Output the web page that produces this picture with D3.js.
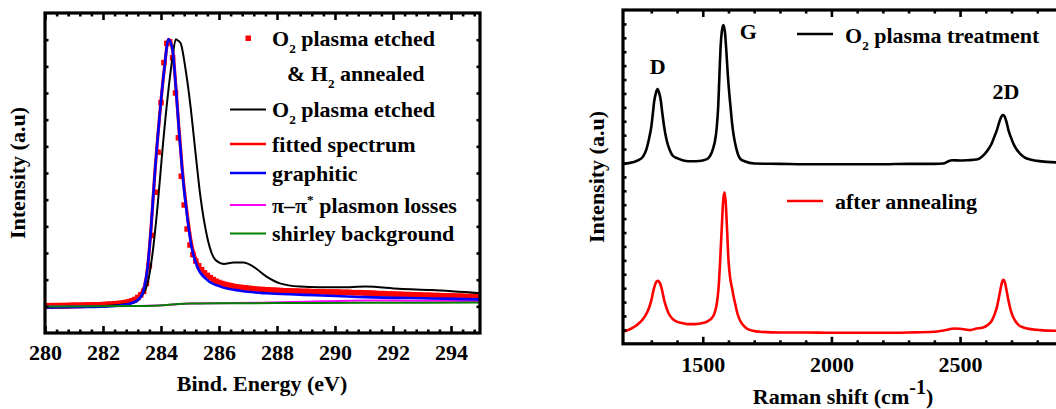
<!DOCTYPE html>
<html><head><meta charset="utf-8">
<script src="https://cdn.jsdelivr.net/npm/d3@7"></script>
<style>
body{margin:0;background:#fff}
svg{display:block}
text{font-family:"Liberation Serif","Times New Roman",serif;font-weight:bold;fill:#000}
</style>
</head><body>
<svg id="chart" width="1056" height="409"></svg>
<script>
// ---------------- DATA ----------------
// Left panel: C1s XPS, binding energy (eV) vs intensity (a.u., 0-100 of frame)
const xpsTickLabels = [280, 282, 284, 286, 288, 290, 292, 294];
const annealedE = [280.0,280.1,280.2,280.3,280.4,280.5,280.6,280.7,280.8,280.9,281.0,281.1,281.2,281.3,281.4,281.5,281.6,281.7,281.8,281.9,282.0,282.1,282.2,282.3,282.4,282.5,282.6,282.7,282.8,282.9,283.0,283.1,283.2,283.3,283.4,283.5,283.6,283.7,283.8,283.9,284.0,284.1,284.2,284.3,284.4,284.5,284.6,284.7,284.8,284.9,285.0,285.1,285.2,285.3,285.4,285.5,285.6,285.7,285.8,285.9,286.0,286.1,286.2,286.3,286.4,286.5,286.6,286.7,286.8,286.9,287.0,287.1,287.2,287.3,287.4,287.5,287.6,287.7,287.8,287.9,288.0,288.1,288.2,288.3,288.4,288.5,288.6,288.7,288.8,288.9,289.0,289.1,289.2,289.3,289.4,289.5,289.6,289.7,289.8,289.9,290.0,290.1,290.2,290.3,290.4,290.5,290.6,290.7,290.8,290.9,291.0,291.1,291.2,291.3,291.4,291.5,291.6,291.7,291.8,291.9,292.0,292.1,292.2,292.3,292.4,292.5,292.6,292.7,292.8,292.9,293.0,293.1,293.2,293.3,293.4,293.5,293.6,293.7,293.8,293.9,294.0,294.1,294.2,294.3,294.4,294.5,294.6,294.7,294.8,294.9,295.0];
const annealedI = [8.4,8.4,8.4,8.4,8.5,8.5,8.5,8.5,8.5,8.6,8.6,8.6,8.6,8.6,8.7,8.7,8.7,8.8,8.8,8.8,8.9,8.9,9.0,9.0,9.1,9.2,9.3,9.4,9.6,9.8,10.1,10.5,11.1,11.9,13.0,15.5,21.0,30.5,44.0,56.5,72.0,84.5,90.5,91.0,86.0,75.0,61.0,49.0,40.0,32.5,27.5,24.5,22.5,21.0,19.8,18.8,18.0,17.3,16.7,16.2,15.8,15.5,15.2,15.0,14.8,14.6,14.4,14.3,14.2,14.1,14.0,13.9,13.8,13.7,13.6,13.6,13.5,13.5,13.4,13.4,13.3,13.3,13.2,13.2,13.2,13.1,13.1,13.1,13.0,13.0,13.0,13.0,12.9,12.9,12.9,12.9,12.9,12.8,12.8,12.8,12.8,12.8,12.7,12.7,12.7,12.7,12.6,12.6,12.6,12.6,12.5,12.5,12.5,12.4,12.4,12.3,12.3,12.3,12.2,12.2,12.2,12.1,12.1,12.1,12.0,12.0,12.0,11.9,11.9,11.9,11.8,11.8,11.8,11.8,11.7,11.7,11.7,11.6,11.6,11.6,11.6,11.5,11.5,11.5,11.5,11.4,11.4,11.4,11.4,11.3,11.3];
const etched = [[280,8.0],[281,8.1],[281.95,8.4],[282.52,8.75],[283.08,9.5],[283.31,11.3],[283.54,15.6],[283.71,25.0],[283.88,39.5],[284.06,58.2],[284.23,73.8],[284.40,86.3],[284.51,91.8],[284.6,91.3],[284.68,90.5],[284.85,82.2],[285.02,70.7],[285.19,56.3],[285.36,42.6],[285.59,30.1],[285.88,22.8],[286.16,21.6],[286.50,22.0],[286.84,22.0],[287.19,20.7],[287.64,17.6],[288.10,15.5],[288.78,14.5],[289.46,14.3],[290.2,14.3],[291.06,14.5],[292.20,13.8],[293.33,13.4],[295.0,12.4]];
const fitted = [[280,8.9],[281,9.0],[282,9.2],[282.6,9.5],[283.0,10.2],[283.2,11.2],[283.43,14.5],[283.54,20.7],[283.66,33.2],[283.77,47.8],[283.94,66.6],[284.11,82.2],[284.26,91.8],[284.40,88.4],[284.51,77.2],[284.62,63.8],[284.74,50.5],[284.89,38.2],[285.05,28.0],[285.25,22.0],[285.59,18.0],[286.05,15.8],[286.73,14.5],[287.64,13.6],[288.78,13.1],[290.0,12.8],[291.06,12.5],[292.2,12.2],[293.34,11.9],[295,11.6]];
const graphitic = [[280,8.0],[281,8.1],[281.95,8.2],[282.52,8.5],[282.97,9.3],[283.26,10.8],[283.43,14.5],[283.54,20.7],[283.66,33.2],[283.77,47.8],[283.94,66.6],[284.11,82.2],[284.26,91.8],[284.40,88.4],[284.51,77.0],[284.62,63.4],[284.74,49.9],[284.89,37.4],[285.05,27.0],[285.25,20.7],[285.59,16.6],[286.05,14.5],[286.73,13.2],[287.64,12.4],[288.78,12.0],[291.06,11.2],[293.34,10.8],[295,10.5]];
const plasmon = [[280,8.3],[283,8.4],[284.2,8.75],[285,9.2],[286,9.3],[287.5,9.45],[288.5,9.65],[289.5,9.9],[290.5,10.1],[291.5,10.15],[292.5,10.1],[293.5,10.05],[295,10.0]];
const shirley = [[280,8.3],[283,8.4],[283.8,8.5],[284.2,8.75],[284.6,9.05],[285,9.2],[286,9.3],[288,9.35],[291,9.45],[295,9.5]];
const xpsLegendLabels = ["O_2 plasma etched", "& H_2 annealed", "O_2 plasma etched", "fitted spectrum", "graphitic", "π–π^* plasmon losses", "shirley background"];

// Right panel: Raman spectra, Raman shift (cm-1) vs intensity (a.u., 0-100 of frame)
const ramanTickLabels = [1500, 2000, 2500];
const ramanO2 = [[1190,53.9],[1228,54.4],[1250,55.0],[1267,56.0],[1280,58.0],[1287,60.0],[1294,62.5],[1300,65.0],[1306,69.0],[1311,72.5],[1318,75.2],[1324,76.3],[1330,75.3],[1337,72.8],[1343,69.0],[1350,65.0],[1356,62.3],[1363,60.0],[1372,58.0],[1382,56.5],[1400,55.6],[1421,55.0],[1445,54.7],[1473,54.7],[1500,54.9],[1520,55.5],[1530,56.5],[1540,58.5],[1548,61.0],[1554,64.5],[1560,71.0],[1565,81.0],[1569,88.5],[1574,93.5],[1580,95.5],[1586,93.5],[1591,88.5],[1597,81.0],[1603,75.0],[1608,71.0],[1614,66.0],[1620,62.5],[1626,60.0],[1632,58.0],[1645,55.5],[1665,54.6],[1700,54.0],[1800,53.9],[1900,53.8],[2000,53.8],[2100,53.8],[2200,53.8],[2300,53.9],[2400,53.9],[2435,54.0],[2450,54.5],[2469,55.0],[2500,54.9],[2530,55.0],[2564,55.2],[2597,57.0],[2612,58.5],[2623,60.0],[2633,62.0],[2643,64.0],[2652,66.3],[2660,68.0],[2667,68.5],[2674,68.0],[2681,66.3],[2688,64.0],[2697,62.0],[2707,60.0],[2720,58.2],[2733,57.0],[2752,55.8],[2772,55.2],[2800,54.8],[2837,54.5],[2900,54.3],[3000,54.2]];
const ramanAnnealed = [[1190,3.6],[1215,4.3],[1240,5.4],[1260,6.7],[1275,8.2],[1290,10.5],[1300,13.0],[1308,15.8],[1315,17.8],[1321,18.7],[1326,18.9],[1331,18.5],[1337,17.5],[1344,15.3],[1351,12.8],[1359,10.8],[1368,9.0],[1380,7.7],[1395,6.8],[1415,6.3],[1440,5.9],[1470,5.9],[1500,6.2],[1520,6.8],[1535,7.7],[1545,9.0],[1552,11.0],[1558,14.0],[1563,18.5],[1568,25.5],[1574,35.0],[1579,42.5],[1584,45.4],[1589,42.5],[1594,35.0],[1600,25.0],[1606,20.0],[1613,17.0],[1619,14.5],[1626,12.0],[1635,9.0],[1645,7.0],[1658,5.5],[1671,4.6],[1695,3.9],[1722,3.6],[1800,3.4],[1900,3.4],[2000,3.3],[2100,3.3],[2200,3.3],[2300,3.4],[2400,3.6],[2435,4.0],[2455,4.3],[2475,4.6],[2500,4.5],[2520,4.3],[2539,4.1],[2560,4.5],[2590,4.9],[2610,5.8],[2623,6.9],[2633,8.6],[2643,10.9],[2650,13.5],[2656,15.9],[2662,18.2],[2668,19.2],[2674,18.5],[2681,15.9],[2687,13.4],[2694,10.9],[2703,8.6],[2714,6.9],[2728,5.6],[2746,4.9],[2775,4.4],[2811,4.1],[2873,3.9],[3000,3.8]];
const ramanLegendLabels = ["O_2 plasma treatment", "after annealing"];
const ramanPeakLabels = [["D", 1325, 76.3], ["G", 1580, 95.5], ["2D", 2667, 68.5]];

// ---------------- DRAWING ----------------
const svg = d3.select("#chart");
const FONT = '"Liberation Serif","Times New Roman",serif';

function rich(sel, str, size) {
  const parts = str.split(/([_^]\S)/).filter(s => s.length);
  let shift = 0;
  parts.forEach(p => {
    let dy = 0, fs = size, txt = p;
    if (p[0] === "_") { txt = p.slice(1); fs = size * 0.6; dy = 7 - shift; shift = 7; }
    else if (p[0] === "^") { txt = p.slice(1); fs = size * 0.6; dy = -9 - shift; shift = -9; }
    else { dy = -shift; shift = 0; }
    sel.append("tspan").attr("dy", dy).attr("font-size", fs).text(txt);
  });
  return sel;
}

function styleAxis(g) {
  g.select(".domain").remove();
  g.attr("font-family", FONT).attr("font-size", 22).attr("font-weight", "bold");
  g.selectAll(".tick line").attr("stroke", "#000").attr("stroke-width", 2.6);
  g.selectAll(".tick text").attr("fill", "#000");
}

function panel(cfg) {
  const { x, y, x0, x1, y0, y1, major, minor, yTickCount, padding, id } = cfg;
  const g = svg.append("g");
  const bMaj = g.append("g").attr("transform", `translate(0,${y0})`)
    .call(d3.axisBottom(x).tickValues(major).tickSizeInner(-7).tickSizeOuter(0).tickPadding(padding).tickFormat(d3.format("d")));
  styleAxis(bMaj);
  const bMin = g.append("g").attr("transform", `translate(0,${y0})`)
    .call(d3.axisBottom(x).tickValues(minor).tickSizeInner(-3.5).tickSizeOuter(0).tickFormat(""));
  styleAxis(bMin);
  const tMaj = g.append("g").attr("transform", `translate(0,${y1})`)
    .call(d3.axisTop(x).tickValues(major).tickSizeInner(-7).tickSizeOuter(0).tickFormat(""));
  styleAxis(tMaj);
  const tMin = g.append("g").attr("transform", `translate(0,${y1})`)
    .call(d3.axisTop(x).tickValues(minor).tickSizeInner(-3.5).tickSizeOuter(0).tickFormat(""));
  styleAxis(tMin);
  const yt = d3.range(1, yTickCount).map(k => 100 * k / yTickCount);
  const lAx = g.append("g").attr("transform", `translate(${x0},0)`)
    .call(d3.axisLeft(y).tickValues(yt).tickSizeInner(-3.5).tickSizeOuter(0).tickFormat(""));
  styleAxis(lAx);
  const rAx = g.append("g").attr("transform", `translate(${x1},0)`)
    .call(d3.axisRight(y).tickValues(yt).tickSizeInner(-3.5).tickSizeOuter(0).tickFormat(""));
  styleAxis(rAx);
  g.append("rect").attr("x", x0).attr("y", y1).attr("width", x1 - x0).attr("height", y0 - y1)
    .attr("fill", "none").attr("stroke", "#000").attr("stroke-width", 3.2);
  svg.append("clipPath").attr("id", id).append("rect")
    .attr("x", x0).attr("y", y1).attr("width", x1 - x0).attr("height", y0 - y1);
  return g;
}

// ----- Left panel -----
const xL = d3.scaleLinear().domain([280, 295]).range([45, 480]);
const yL = d3.scaleLinear().domain([0, 100]).range([333, 13]);
const minorL = d3.range(280, 295.001, 0.4).filter(v => Math.abs((v - 280) % 2) > 0.05 && Math.abs((v - 280) % 2 - 2) > 0.05);
const curvesL = svg.append("g").attr("clip-path", "url(#clipL)");
const lineL = d3.line().x(d => xL(d[0])).y(d => yL(d[1])).curve(d3.curveMonotoneX);

curvesL.append("g").selectAll("rect").data(annealedE.map((e, i) => [e, annealedI[i]])).join("rect")
  .attr("x", d => xL(d[0]) - 2.75).attr("y", d => yL(d[1]) - 2.75)
  .attr("width", 5.5).attr("height", 5.5).attr("fill", "#ff0000");
curvesL.append("path").datum(fitted).attr("d", lineL).attr("fill", "none").attr("stroke", "#ff0000").attr("stroke-width", 3.2);
curvesL.append("path").datum(etched).attr("d", lineL).attr("fill", "none").attr("stroke", "#000").attr("stroke-width", 2);
curvesL.append("path").datum(plasmon).attr("d", lineL).attr("fill", "none").attr("stroke", "#ff00ff").attr("stroke-width", 2);
curvesL.append("path").datum(graphitic).attr("d", lineL).attr("fill", "none").attr("stroke", "#0000ff").attr("stroke-width", 2.6);
curvesL.append("path").datum(shirley).attr("d", lineL).attr("fill", "none").attr("stroke", "#008000").attr("stroke-width", 2);

panel({ x: xL, y: yL, x0: 45, x1: 480, y0: 333, y1: 13, major: xpsTickLabels, minor: minorL, yTickCount: 12, padding: 11, id: "clipL" });

const legL = svg.append("g");
legL.append("rect").attr("x", 245.5).attr("y", 35.5).attr("width", 5.5).attr("height", 5.5).attr("fill", "#ff0000");
rich(legL.append("text").attr("x", 272).attr("y", 46).attr("font-size", 22), xpsLegendLabels[0], 22);
rich(legL.append("text").attr("x", 287).attr("y", 81).attr("font-size", 22), xpsLegendLabels[1], 22);
const legLines = [
  { c: "#000", y: 109.5, ty: 117, w: 2 },
  { c: "#ff0000", y: 144, ty: 152, w: 2.6 },
  { c: "#0000ff", y: 173, ty: 180.5, w: 2.6 },
  { c: "#ff00ff", y: 205, ty: 213, w: 2.2 },
  { c: "#008000", y: 233.5, ty: 241, w: 2.2 }
];
legLines.forEach((L, i) => {
  legL.append("line").attr("x1", 230).attr("x2", 266).attr("y1", L.y).attr("y2", L.y)
    .attr("stroke", L.c).attr("stroke-width", L.w);
  rich(legL.append("text").attr("x", 272).attr("y", L.ty).attr("font-size", 22), xpsLegendLabels[i + 2], 22);
});

svg.append("text").attr("x", 262).attr("y", 391).attr("text-anchor", "middle").attr("font-size", 22).text("Bind. Energy (eV)");
svg.append("text").attr("transform", "translate(25,173) rotate(-90)").attr("text-anchor", "middle").attr("font-size", 22).text("Intensity (a.u)");

// ----- Right panel -----
const xR = d3.scaleLinear().domain([1190, 3000]).range([623, 623 + 1810 * 0.2573]);
const yR = d3.scaleLinear().domain([0, 100]).range([343.8, 10]);
const minorR = d3.range(1300, 3001, 100).filter(v => v % 500 !== 0);
const curvesR = svg.append("g").attr("clip-path", "url(#clipR)");
const lineR = d3.line().x(d => xR(d[0])).y(d => yR(d[1])).curve(d3.curveMonotoneX);
curvesR.append("path").datum(ramanO2).attr("d", lineR).attr("fill", "none").attr("stroke", "#000").attr("stroke-width", 2.6);
curvesR.append("path").datum(ramanAnnealed).attr("d", lineR).attr("fill", "none").attr("stroke", "#ff0000").attr("stroke-width", 2.6);

panel({ x: xR, y: yR, x0: 623, x1: 623 + 1810 * 0.2573, y0: 343.8, y1: 10, major: ramanTickLabels, minor: minorR, yTickCount: 24, padding: 13, id: "clipR" });

const peakOffsets = { "D": [0, -15], "G": [25, 14], "2D": [3, -16] };
ramanPeakLabels.forEach(p => {
  const o = peakOffsets[p[0]];
  svg.append("text").attr("x", xR(p[1]) + o[0]).attr("y", yR(p[2]) + o[1])
    .attr("text-anchor", "middle").attr("font-size", 22).text(p[0]);
});

const legR = svg.append("g");
legR.append("line").attr("x1", 797).attr("x2", 833).attr("y1", 34).attr("y2", 34).attr("stroke", "#000").attr("stroke-width", 2.6);
rich(legR.append("text").attr("x", 845).attr("y", 42.5).attr("font-size", 22), ramanLegendLabels[0], 22);
legR.append("line").attr("x1", 787).attr("x2", 823).attr("y1", 201).attr("y2", 201).attr("stroke", "#ff0000").attr("stroke-width", 2.6);
rich(legR.append("text").attr("x", 835).attr("y", 208.5).attr("font-size", 22), ramanLegendLabels[1], 22);

const rt = svg.append("text").attr("x", 843).attr("y", 404).attr("text-anchor", "middle").attr("font-size", 22);
rt.append("tspan").text("Raman shift (cm");
rt.append("tspan").attr("dy", -10).attr("font-size", 20).text("-1");
rt.append("tspan").attr("dy", 10).text(")");
svg.append("text").attr("transform", "translate(604,177) rotate(-90)").attr("text-anchor", "middle").attr("font-size", 22).text("Intensity (a.u)");
</script>
</body></html>
